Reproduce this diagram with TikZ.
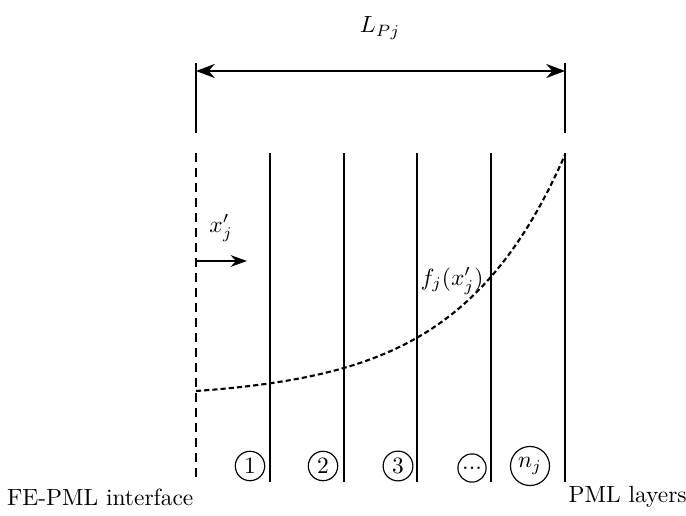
\documentclass[tikz,border=0pt]{standalone}
\usepackage{tikz}
\usetikzlibrary{arrows.meta,positioning,calc}

\begin{document}
\begin{tikzpicture}[
  x=0.015cm, y=-0.015cm,
  layer/.style={line width=0.85pt},
  iface/.style={line width=0.85pt, dash pattern=on 4pt off 2.4pt},
  decay/.style={line width=0.9pt, dash pattern=on 2.2pt off 1.3pt},
  ext/.style={line width=0.6pt},
  dim/.style={{Stealth[length=8pt,width=6pt]}-{Stealth[length=8pt,width=6pt]}, line width=0.8pt},
  coord/.style={-{Stealth[length=7pt,width=5pt]}, line width=0.85pt},
  num/.style={circle, draw, inner sep=1.5pt, line width=0.5pt}
]
  \useasboundingbox (0,0) rectangle (686,516);

  % dimension L_Pj
  \coordinate (e0t) at (196,63);
  \coordinate (e0b) at (196,133);
  \coordinate (e5t) at (565,63);
  \coordinate (e5b) at (565,133);
  \draw[ext] (e0t) -- (e0b);
  \draw[ext] (e5t) -- (e5b);
  \coordinate (d0) at (196,71);
  \coordinate (d5) at (565,71);
  \draw[dim] (d0) -- (d5);
  \node (lpj) at (380,28) {$L_{Pj}$};

  % interface and layers
  \coordinate (t0) at (196,153);
  \coordinate (b0) at (196,482);
  \draw[iface] (t0) -- (b0);
  \foreach \i/\x in {1/270,2/344,3/417,4/491,5/565} {
    \coordinate (t\i) at (\x,153);
    \coordinate (b\i) at (\x,482);
    \draw[layer] (t\i) -- (b\i);
  }

  % local coordinate
  \coordinate (xs) at (196,261);
  \coordinate (xe) at (247,261);
  \draw[coord] (xs) -- (xe);
  \node (xlab) at (221,228) {$x'_j$};

  % decay function
  \draw[decay] plot[domain=0:369, samples=80, smooth]
    ({196+\x}, {391-7.69*(exp(0.00937*\x)-1)});
  \node (flab) at (452,281) {$f_j(x'_j)$};

  % layer numbers
  \node[num] (n1) at (250,466) {1};
  \node[num] (n2) at (323,466) {2};
  \node[num] (n3) at (398,466) {3};
  \node[num] (n4) at (472,468) {...};
  \node[num] (n5) at (530,466) {$n_j$};

  \node[anchor=east, inner sep=0.5pt] (ifl) at (195,497) {FE-PML interface};
  \node[anchor=west, inner sep=0.5pt] (pml) at (567,497) {PML layers};
\end{tikzpicture}
\end{document}
